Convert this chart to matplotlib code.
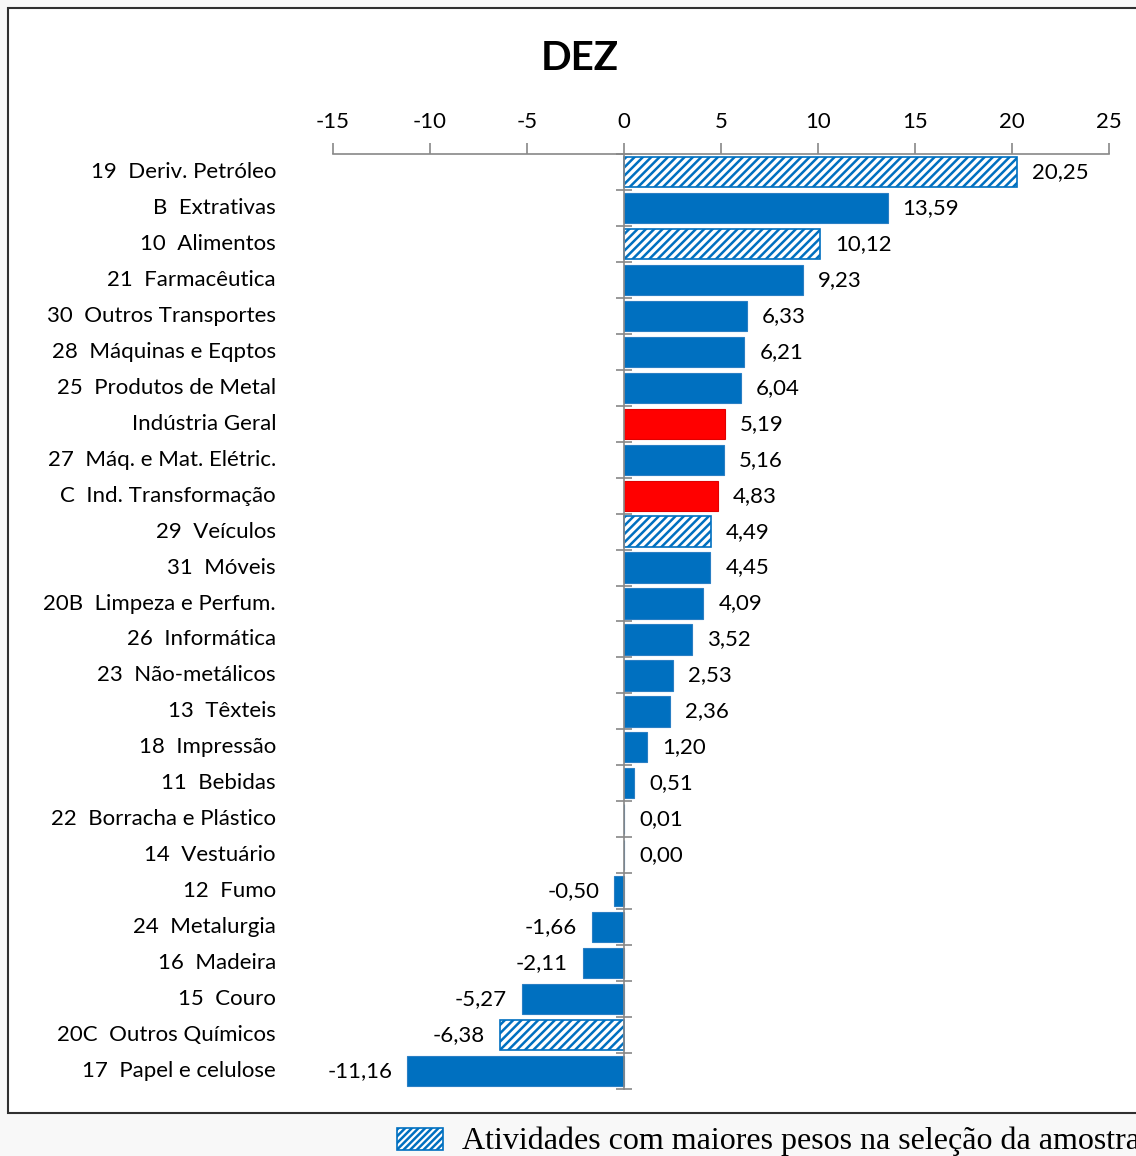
import matplotlib.pyplot as plt
from matplotlib.patches import Rectangle
import matplotlib.transforms as mtransforms

# Dados do gráfico (DEZ)
categorias = [
    "19  Deriv. Petróleo", "B  Extrativas", "10  Alimentos", "21  Farmacêutica",
    "30  Outros Transportes", "28  Máquinas e Eqptos", "25  Produtos de Metal",
    "Indústria Geral", "27  Máq. e Mat. Elétric.", "C  Ind. Transformação",
    "29  Veículos", "31  Móveis", "20B  Limpeza e Perfum.", "26  Informática",
    "23  Não-metálicos", "13  Têxteis", "18  Impressão", "11  Bebidas",
    "22  Borracha e Plástico", "14  Vestuário", "12  Fumo", "24  Metalurgia",
    "16  Madeira", "15  Couro", "20C  Outros Químicos", "17  Papel e celulose",
]
valores = [20.25, 13.59, 10.12, 9.23, 6.33, 6.21, 6.04, 5.19, 5.16, 4.83,
           4.49, 4.45, 4.09, 3.52, 2.53, 2.36, 1.20, 0.51, 0.01, 0.00,
           -0.50, -1.66, -2.11, -5.27, -6.38, -11.16]
# tipo: 'h' = maiores pesos (hachurado), 'r' = agregados (vermelho), 'n' = normal
tipos = ['h', 'n', 'h', 'n', 'n', 'n', 'n', 'r', 'n', 'r',
         'h', 'n', 'n', 'n', 'n', 'n', 'n', 'n', 'n', 'n',
         'n', 'n', 'n', 'n', 'h', 'n']
ticks_x = [-15, -10, -5, 0, 5, 10, 15, 20, 25]

AZUL = '#0070C0'
VERMELHO = '#FF0000'
FONTE = 'Lato'

plt.rcParams['hatch.linewidth'] = 1.8

W, H = 1136, 1156
fig = plt.figure(figsize=(W / 100, H / 100), dpi=100)
fig.patch.set_facecolor('#f8f8f8')

# caixa do gráfico
fig.patches.append(Rectangle((8 / W, 1 - 1113 / H), 1.2, (1113 - 8) / H,
                             transform=fig.transFigure, facecolor='white',
                             edgecolor='#303030', linewidth=1.5, zorder=-5))

ax = fig.add_axes([333 / W, 1 - 1089 / H, (1109 - 333) / W, (1089 - 154) / H])
ax.set_facecolor('none')
ax.set_zorder(2)

for i, (v, t) in enumerate(zip(valores, tipos)):
    if t == 'h':
        ax.barh(i, v, height=0.84, color='white', edgecolor=AZUL, hatch='////',
                linewidth=1.2, zorder=2)
    elif t == 'r':
        ax.barh(i, v, height=0.84, color=VERMELHO, edgecolor='#e00000',
                linewidth=0.8, zorder=2)
    else:
        ax.barh(i, v, height=0.84, color=AZUL, edgecolor='#2a7fc4',
                linewidth=0.8, zorder=2)

    rot = f"{v:.2f}".replace('.', ',')
    if v >= 0:
        ax.annotate(rot, (v, i), xytext=(15, 0), textcoords='offset pixels',
                    ha='left', va='center', fontsize=16, family=FONTE)
    else:
        ax.annotate(rot, (v, i), xytext=(-15, 0), textcoords='offset pixels',
                    ha='right', va='center', fontsize=16, family=FONTE)

ax.set_xlim(-15, 25)
ax.set_ylim(len(categorias) - 0.5, -0.5)

# eixo x no topo
ax.xaxis.tick_top()
ax.set_xticks(ticks_x)
ax.set_xticklabels([str(t) for t in ticks_x], fontsize=16, family=FONTE)
ax.tick_params(axis='x', direction='out', length=8, width=1.2, color='#888888', pad=8)
for lado in ['right', 'bottom']:
    ax.spines[lado].set_visible(False)
ax.spines['top'].set_color('#888888')
ax.spines['top'].set_linewidth(1.2)

# eixo y na posição zero
ax.spines['left'].set_position(('data', 0))
ax.spines['left'].set_color('#888888')
ax.spines['left'].set_linewidth(1.2)
ax.set_yticks([i - 0.5 for i in range(len(categorias) + 1)])
ax.set_yticklabels([])
ax.tick_params(axis='y', direction='inout', length=12, width=1.2, color='#888888')

# rótulos das categorias
trans = mtransforms.blended_transform_factory(fig.transFigure, ax.transData)
for i, c in enumerate(categorias):
    ax.text(276 / W, i, c, transform=trans, ha='right', va='center',
            fontsize=16, family=FONTE)

fig.text(580 / W, 1 - 58 / H, 'DEZ', ha='center', va='center',
         fontsize=29, fontweight='bold', family=FONTE)

# legenda (cortada na borda direita, como na imagem original)
fig.patches.append(Rectangle((397 / W, 1 - 1150 / H), 46 / W, 22 / H,
                             transform=fig.transFigure, facecolor='white',
                             edgecolor=AZUL, hatch='/////', linewidth=1.2))
fig.text(462 / W, 1 - 1141 / H, 'Atividades com maiores pesos na seleção da amostra',
         ha='left', va='center', fontsize=23, family='Liberation Serif')

fig.savefig('out.png', dpi=100, facecolor=fig.get_facecolor())
